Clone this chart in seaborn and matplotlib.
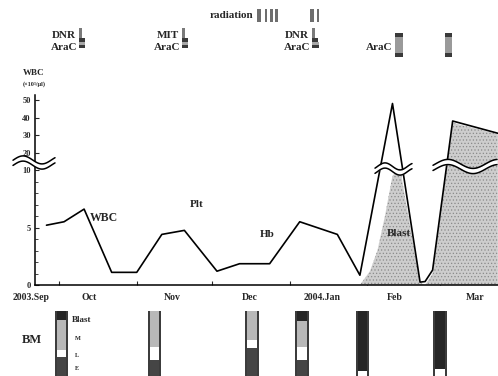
import numpy as np
import pandas as pd
import matplotlib
matplotlib.use('Agg')
import matplotlib.pyplot as plt
import matplotlib.dates as mdates
from matplotlib.ticker import FixedLocator, FixedFormatter, NullFormatter
import seaborn as sns

# WBC count (x10^3/ul)
wbc_dates = ['2003-09-26', '2003-10-03', '2003-10-11', '2003-10-22', '2003-11-01',
             '2003-11-11', '2003-11-20', '2003-12-03', '2003-12-12', '2003-12-24',
             '2004-01-05', '2004-01-20', '2004-01-29', '2004-02-11', '2004-02-22',
             '2004-02-24', '2004-02-27', '2004-03-06', '2004-03-24']
wbc_vals = [5.2, 5.5, 6.6, 1.1, 1.1, 4.4, 4.75, 1.2, 1.85, 1.85,
            5.5, 4.4, 0.85, 48, 0.25, 0.3, 1.3, 38, 31]

# blast part of the WBC (shaded area)
blast_dates = ['2004-01-29', '2004-02-02', '2004-02-05', '2004-02-08', '2004-02-11',
               '2004-02-14', '2004-02-22', '2004-02-24', '2004-02-27', '2004-03-06',
               '2004-03-24']
blast_vals = [0, 1.2, 3, 6, 9.5, 11, 0.2, 0, 1.0, 37, 30.5]

# month ticks and labels
month_starts = ['2003-10-01', '2003-11-01', '2003-12-01', '2004-01-01', '2004-02-01', '2004-03-01']
label_dates = ['2003-09-20', '2003-10-13', '2003-11-15', '2003-12-16', '2004-01-14', '2004-02-12', '2004-03-15']
month_labels = ['2003.Sep', 'Oct', 'Nov', 'Dec', '2004.Jan', 'Feb', 'Mar']

# therapy: start date, length in days
radiation = [('2003-12-19', 1.6), ('2003-12-22', 0.8), ('2003-12-24', 1.2),
             ('2003-12-26', 1.2), ('2004-01-09', 1.6), ('2004-01-12', 0.8)]
induction_names = ['DNR', 'MIT', 'DNR']
induction = [('2003-10-09', 2.2), ('2003-11-19', 2.4), ('2004-01-10', 2.4)]
arac_low = [('2003-10-09', 2.4), ('2003-11-19', 2.4), ('2004-01-10', 2.8)]
arac_high = [('2004-02-12', 3.2), ('2004-03-03', 2.8)]

# bone marrow samples, % of column: blast / M / L / E
bm_dates = ['2003-10-02', '2003-11-08', '2003-12-17', '2004-01-06', '2004-01-30', '2004-03-01']
bm_blast = [14, 0, 0, 15, 92, 89]
bm_m = [46, 55, 45, 40, 0, 0]
bm_l = [11, 20, 12, 20, 8, 11]
bm_e = [29, 25, 43, 25, 0, 0]

d2n = lambda s: mdates.date2num(pd.Timestamp(s))

sns.set_style('ticks')
plt.rcParams['font.family'] = ['Liberation Serif', 'DejaVu Serif']
plt.rcParams['font.weight'] = 'bold'
plt.rcParams['hatch.linewidth'] = 0.5

fig = plt.figure(figsize=(4.98, 3.76), dpi=100)
L, W = 35 / 498, 463 / 498
xlim = (d2n('2003-09-21 10:00'), d2n('2004-03-24 02:00'))

# ---- main WBC panel ----
ax = fig.add_axes([L, 1 - 285 / 376, W, 190 / 376])
k = 1.75 / 11.5


def fwd(v):
    v = np.asarray(v, float)
    return np.where(v <= 10, v, 10 + (v - 10) * k)


def inv(u):
    u = np.asarray(u, float)
    return np.where(u <= 10, u, 10 + (u - 10) / k)


ax.set_yscale('function', functions=(fwd, inv))

bx = [d2n(d) for d in blast_dates]
ax.fill_between(bx, 0, blast_vals, facecolor='#cdcdcd', edgecolor='#8a8a8a',
                hatch='.....', linewidth=0, zorder=1)
sns.lineplot(x=[d2n(d) for d in wbc_dates], y=wbc_vals, color='black',
             linewidth=1.2, sort=False, ax=ax, zorder=3)

ax.set_xlim(*xlim)
ax.set_ylim(0, 52.86)
ax.set_yticks([0, 5, 10, 20, 30, 40, 50])
ax.set_yticklabels(['0', '5', '10', '20', '30', '40', '50'])
ax.yaxis.set_minor_locator(FixedLocator([1, 2, 3, 4, 6, 7, 8, 9]))
ax.set_xticks([d2n(d) for d in month_starts])
ax.xaxis.set_major_formatter(NullFormatter())
ax.xaxis.set_minor_locator(FixedLocator([d2n(d) for d in label_dates[1:]]))
ax.xaxis.set_minor_formatter(FixedFormatter(month_labels[1:]))
ax.tick_params(axis='both', which='major', direction='in', length=3, width=0.8,
               labelsize=6, pad=3)
ax.tick_params(axis='y', which='minor', direction='in', length=2, width=0.6)
ax.tick_params(axis='x', which='minor', length=0, labelsize=7, pad=6)
# first label sits left of the axis start
ax.text(d2n(label_dates[0]), -12 / 190, month_labels[0], transform=ax.get_xaxis_transform(),
        fontsize=7, ha='center', va='center')
ax.set_xlabel('')
ax.set_ylabel('')
sns.despine(ax=ax)
for s in ['left', 'bottom']:
    ax.spines[s].set_linewidth(1.1)
    ax.spines[s].set_color('black')

ax.text(d2n('2003-10-19'), 5.8, 'WBC', fontsize=8.5, ha='center', va='center')
ax.text(d2n('2003-11-25'), 7.0, 'Plt', fontsize=8, ha='center', va='center')
ax.text(d2n('2003-12-23'), 4.35, 'Hb', fontsize=8, ha='center', va='center')
ax.text(d2n('2004-02-13 14:00'), 4.5, 'Blast', fontsize=8, ha='center', va='center')

fig.text(34 / 498, 1 - 73 / 376, 'WBC', fontsize=6.5, ha='center', va='center')
fig.text(34 / 498, 1 - 84 / 376, '(×10³/μl)', fontsize=4.5, ha='center', va='center')


# axis break marks (pixel positions relative to the main axes)
def axis_break(x0, x1, yc, amp, period, xpeak):
    px = np.linspace(x0, x1, 80)
    c = yc - amp * np.cos(2 * np.pi * (px - xpeak) / period)
    fx = (px - 35) / 463
    fu = (285 - (c - 2.6)) / 190
    fl = (285 - (c + 2.6)) / 190
    ax.fill_between(fx, fl, fu, transform=ax.transAxes, color='white',
                    zorder=5, clip_on=False, linewidth=0)
    ax.plot(fx, fu, transform=ax.transAxes, color='black', lw=1.1, zorder=6, clip_on=False)
    ax.plot(fx, fl, transform=ax.transAxes, color='black', lw=1.1, zorder=6, clip_on=False)


axis_break(13, 55, 162.5, 4, 38, 23)
axis_break(375, 412, 169, 3.5, 30, 385)
axis_break(433, 497, 166.5, 4.5, 50, 448)

# ---- therapy panel ----
tax = fig.add_axes([L, 1 - 60 / 376, W, 60 / 376])
tax.set_xlim(*xlim)
tax.set_ylim(60, 0)
tax.axis('off')

for start, dur in radiation:
    tax.bar(d2n(start), 13, width=dur, bottom=9, align='edge', color='#6e6e6e', linewidth=0)
tax.text(d2n(radiation[0][0]) - 1.5, 15, 'radiation', fontsize=8, ha='right', va='center')

for name, (start, dur) in zip(induction_names, induction):
    x = d2n(start)
    tax.bar(x, 14, width=dur * 0.5, bottom=28, align='edge', color='#7a7a7a', linewidth=0)
    tax.bar(x, 4, width=dur, bottom=38, align='edge', color='#3a3a3a', linewidth=0)
    tax.text(x - 1.2, 35, name, fontsize=8, ha='right', va='center')
for start, dur in arac_low:
    x = d2n(start)
    tax.bar(x, 3, width=dur, bottom=42, align='edge', color='#a8a8a8', linewidth=0)
    tax.bar(x, 3, width=dur, bottom=45, align='edge', color='#3a3a3a', linewidth=0)
    tax.text(x - 0.6, 48, 'AraC', fontsize=8, ha='right', va='center')
for i, (start, dur) in enumerate(arac_high):
    x = d2n(start)
    tax.bar(x, 24, width=dur, bottom=33, align='edge', color='#9a9a9a', linewidth=0)
    tax.bar(x, 4, width=dur, bottom=33, align='edge', color='#3a3a3a', linewidth=0)
    tax.bar(x, 4, width=dur, bottom=53, align='edge', color='#3a3a3a', linewidth=0)
    if i == 0:
        tax.text(x - 1.0, 48, 'AraC', fontsize=8, ha='right', va='center')

# ---- bone marrow panel ----
bax = fig.add_axes([L, 0, W, 65 / 376])
bax.set_xlim(*xlim)
bax.set_ylim(100, 0)
bax.axis('off')
bmx = [d2n(d) for d in bm_dates]
# column frame
bax.bar(bmx, 100, width=5.4, bottom=0, color='#3c3c3c', linewidth=0)
bottom = np.zeros(len(bmx))
for vals, col in [(bm_blast, '#262626'), (bm_m, '#b8b8b8'), (bm_l, 'white'), (bm_e, '#454545')]:
    bax.bar(bmx, vals, width=3.8, bottom=bottom, color=col, linewidth=0)
    bottom += np.array(vals)

x_lab = bmx[0] + 4.3
bax.text(x_lab, 14, 'Blast', fontsize=6.5, ha='left', va='center')
bax.text(x_lab + 1.2, 43, 'M', fontsize=4.5, ha='left', va='center')
bax.text(x_lab + 1.2, 68, 'L', fontsize=4.5, ha='left', va='center')
bax.text(x_lab + 1.2, 88, 'E', fontsize=4.5, ha='left', va='center')
bax.text(d2n('2003-09-20'), 45, 'BM', fontsize=9, ha='center', va='center')

fig.savefig('out.png', dpi=100)
